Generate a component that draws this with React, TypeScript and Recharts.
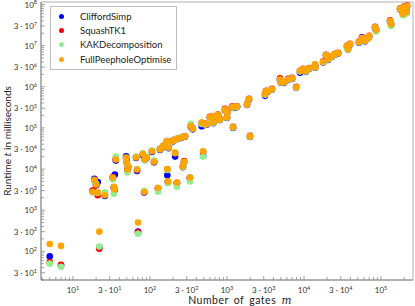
import React from 'react'
import { ScatterChart, Scatter, XAxis, YAxis, ReferenceArea } from 'recharts'

// number of gates m for every benchmark circuit
const gates = [
  5, 7, 18, 19, 20, 21, 22, 26, 33, 34,
  35, 36, 49, 50, 51, 52, 66, 68, 70, 81,
  84, 86, 90, 106, 113, 127, 135, 148, 155, 166,
  168, 171, 175, 193, 205, 212, 224, 231, 261, 268,
  277, 285, 330, 340, 360, 470, 490, 518, 550, 600,
  640, 660, 665, 765, 790, 810, 940, 1000, 1010, 1160,
  1200, 1230, 1350, 1820, 1930, 1990, 3120, 3210, 3400, 3840,
  4880, 5020, 5500, 6200, 7000, 7900, 8870, 9700, 10600, 11600,
  13900, 14000, 17700, 19300, 20500, 23100, 25300, 27700, 36200, 37200,
  39500, 51700, 56600, 61900, 67800, 70000, 83600, 86100, 131000, 135000,
  176600, 193200, 199000, 215000, 218000,
]

// runtime in ms per pass
const cliffordSimp = [
  75, 45, 2900, 5800, 4000, 4800, 125, 2200, 6000, 3600,
  7300, 16000, 20500, 14000, 9500, 11000, 18500, 9000, 300, 22000,
  2700, 16500, 18500, 26000, 14500, 3400, 29000, 34000, 37000, 46000,
  7000, 4800, 32000, 45000, 49000, 20000, 4500, 54000, 58000, 11000,
  14500, 61000, 6000, 105000, 92000, 109000, 21000, 118000, 120000, 175000,
  176000, 185000, 130000, 205000, 155000, 156000, 270000, 175000, 232000, 310000,
  100000, 305000, 320000, 360000, 480000, 60000, 600000, 740000, 760000, 850000,
  1450000, 1250000, 1240000, 1450000, 1550000, 940000, 2200000, 2600000, 2300000, 2700000,
  3400000, 2900000, 3900000, 5700000, 4500000, 5300000, 6000000, 6400000, 9400000, 8000000,
  10500000, 11800000, 16000000, 12600000, 14800000, 16500000, 27000000, 23500000, 39000000, 32000000,
  76000000, 57000000, 85000000, 64000000, 90000000,
]

const squashTK1 = [
  55, 47, 3000, 5300, 4100, 2300, 115, 2400, 6400, 3500,
  3100, 17500, 18500, 16000, 9900, 11800, 19500, 9500, 290, 23500,
  2750, 17500, 19500, 27500, 15500, 3300, 31000, 36000, 39000, 48000,
  9800, 4900, 34000, 48000, 51000, 24000, 4600, 56000, 60000, 11800,
  15500, 63000, 6100, 112000, 97000, 130000, 26000, 125000, 126000, 185000,
  183000, 195000, 140000, 215000, 165000, 163000, 290000, 185000, 245000, 330000,
  106000, 325000, 335000, 380000, 510000, 64000, 680000, 800000, 790000, 890000,
  1600000, 1320000, 1310000, 1550000, 1650000, 1000000, 2450000, 2750000, 2450000, 2850000,
  3000000, 3050000, 4100000, 6000000, 4800000, 5600000, 6300000, 6700000, 9900000, 8400000,
  11100000, 12500000, 15500000, 13300000, 15500000, 17300000, 28500000, 24500000, 41000000, 34000000,
  80000000, 60000000, 89000000, 68000000, 94000000,
]

const kakDecomposition = [
  50, 42, 2700, 5000, 4400, 2600, 130, 2700, 5600, 2500,
  3400, 20000, 18000, 13500, 8200, 12000, 20000, 10000, 265, 24000,
  2900, 16000, 20000, 28000, 16000, 2800, 30500, 35500, 38500, 47500,
  9500, 4500, 33500, 46000, 50500, 24500, 3700, 55500, 59500, 11200,
  14800, 62500, 5000, 125000, 96000, 125000, 20000, 120000, 124000, 170000,
  178000, 188000, 132000, 208000, 158000, 158000, 275000, 178000, 236000, 315000,
  102000, 312000, 325000, 365000, 490000, 61000, 640000, 760000, 770000, 860000,
  1480000, 1270000, 1270000, 1480000, 1580000, 950000, 2350000, 2650000, 2350000, 2750000,
  3450000, 2950000, 3950000, 5800000, 4600000, 5400000, 6100000, 6500000, 8500000, 8100000,
  10700000, 12000000, 15000000, 12800000, 15000000, 16800000, 27500000, 22000000, 39500000, 30000000,
  77000000, 55000000, 86000000, 60000000, 91000000,
]

const fullPeephole = [
  150, 135, 2800, 5500, 4200, 2700, 300, 2300, 6200, 3700,
  3200, 17000, 19000, 14400, 9700, 11500, 19000, 9700, 500, 23000,
  2800, 17000, 19000, 27000, 15000, 3500, 30000, 35000, 38000, 47000,
  10000, 5000, 33000, 47000, 50000, 25000, 4700, 55000, 59000, 11500,
  15000, 62000, 6200, 110000, 95000, 136000, 27000, 122000, 122000, 180000,
  180000, 190000, 136000, 210000, 160000, 160000, 280000, 180000, 240000, 320000,
  103000, 320000, 330000, 370000, 500000, 62000, 660000, 780000, 780000, 870000,
  1500000, 1290000, 1290000, 1500000, 1600000, 970000, 2400000, 2700000, 2400000, 2800000,
  3500000, 3000000, 4000000, 5900000, 4700000, 5500000, 6200000, 6600000, 9700000, 8200000,
  10900000, 12200000, 15200000, 13000000, 15200000, 17000000, 28000000, 24000000, 40000000, 33000000,
  78000000, 59000000, 87000000, 66000000, 92000000,
]

const SERIES = [
  { name: 'CliffordSimp', color: '#0000ff', values: cliffordSimp },
  { name: 'SquashTK1', color: '#ff0000', values: squashTK1 },
  { name: 'KAKDecomposition', color: '#90ee90', values: kakDecomposition },
  { name: 'FullPeepholeOptimise', color: '#ffa500', values: fullPeephole },
]

const xLabeled = [10, 30, 100, 300, 1000, 3000, 10000, 30000, 100000]
const yLabeled = [30, 100, 300, 1000, 3000, 1e4, 3e4, 1e5, 3e5, 1e6, 3e6, 1e7, 3e7, 1e8]

// 1..9 x 10^k log ticks inside [lo, hi]
const logTicks = (lo: number, hi: number) => {
  const out: number[] = []
  for (let k = 0; k <= 8; k++) {
    for (let d = 1; d <= 9; d++) {
      const v = d * Math.pow(10, k)
      if (v >= lo && v <= hi) out.push(v)
    }
  }
  return out
}
const xTicks = logTicks(4, 200000)
const yTicks = logTicks(20, 1e8)

const FONT = 'Lato, "DejaVu Sans", sans-serif'
const AXIS = '#8c8c8c'

const isLabeled = (list: number[], v: number) => list.some(l => Math.abs(l - v) / l < 1e-6)

const TickText = ({ v, ...rest }: any) => {
  const exp = Math.floor(Math.log10(v) + 1e-9)
  const mant = Math.round(v / Math.pow(10, exp))
  return (
    <text {...rest} fontSize={8} fill="#333" fontFamily={FONT}>
      {mant === 1 ? '10' : `${mant} · 10`}
      <tspan dy={-3.2} fontSize={5.5}>{exp}</tspan>
    </text>
  )
}

const XTick = ({ x, y, payload }: any) => {
  const major = isLabeled(xLabeled, payload.value)
  return (
    <g>
      <line x1={x} x2={x} y1={y} y2={y - (major ? 4 : 3)} stroke={AXIS} strokeWidth={0.8} />
      {major && <TickText v={payload.value} x={x} y={y + 13} textAnchor="middle" />}
    </g>
  )
}

const YTick = ({ x, y, payload }: any) => {
  const major = isLabeled(yLabeled, payload.value)
  return (
    <g>
      <line x1={x} x2={x + (major ? 4 : 3)} y1={y} y2={y} stroke={AXIS} strokeWidth={0.8} />
      {major && <TickText v={payload.value} x={x - 4} y={y + 3} textAnchor="end" />}
    </g>
  )
}

const LegendBox = () => (
  <div
    style={{
      position: 'absolute',
      left: 50,
      top: 6,
      border: '1px solid #bdbdbd',
      background: '#fff',
      width: 125,
      padding: '2px 0',
      fontFamily: FONT,
      fontSize: 9.5,
      color: '#222',
    }}
  >
    {SERIES.map(s => (
      <div key={s.name} style={{ display: 'flex', alignItems: 'center', height: 14.4 }}>
        <span
          style={{
            width: 5,
            height: 5,
            borderRadius: '50%',
            background: s.color,
            marginLeft: 8,
            marginRight: 16,
          }}
        />
        <span>{s.name}</span>
      </div>
    ))}
  </div>
)

export default function App() {
  return (
    <div style={{ position: 'relative', width: 415, height: 306, background: '#fff' }}>
      <style>{'body{margin:0}'}</style>
      <ScatterChart width={415} height={306} margin={{ top: 2, right: 2, left: 0, bottom: 0 }}>
        <XAxis
          dataKey="m"
          type="number"
          scale="log"
          domain={[3.85, 260000]}
          allowDataOverflow
          ticks={xTicks}
          interval={0}
          tickSize={0}
          tickMargin={0}
          tick={<XTick />}
          axisLine={{ stroke: AXIS }}
          height={26}
        />
        <YAxis
          dataKey="t"
          type="number"
          scale="log"
          domain={[20, 1.15e8]}
          allowDataOverflow
          ticks={yTicks}
          interval={0}
          tickSize={0}
          tickMargin={0}
          tick={<YTick />}
          axisLine={{ stroke: AXIS }}
          width={41}
        />
        <ReferenceArea x1={3.85} x2={260000} y1={20} y2={1.15e8} fill="none" stroke="#b0b0b0" />
        {SERIES.map(s => (
          <Scatter
            key={s.name}
            name={s.name}
            data={gates.map((m, i) => ({ m, t: s.values[i] }))}
            fill={s.color}
            isAnimationActive={false}
            shape={(p: any) => <circle cx={p.cx} cy={p.cy} r={3.3} fill={s.color} />}
          />
        ))}
      </ScatterChart>
      <LegendBox />
      <div
        style={{
          position: 'absolute',
          left: 0,
          top: 294,
          width: 480,
          textAlign: 'center',
          fontFamily: FONT,
          fontSize: 10.5,
          letterSpacing: 0.5,
          wordSpacing: 2,
          color: '#222',
        }}
      >
        Number of gates <i style={{ fontFamily: '"DejaVu Serif", serif' }}>m</i>
      </div>
      <div
        style={{
          position: 'absolute',
          left: 7,
          top: 141,
          transform: 'translate(-50%, -50%) rotate(-90deg)',
          whiteSpace: 'nowrap',
          fontFamily: FONT,
          fontSize: 10,
          color: '#222',
        }}
      >
        Runtime <i style={{ fontFamily: '"DejaVu Serif", serif' }}>t</i> in milliseconds
      </div>
    </div>
  )
}
